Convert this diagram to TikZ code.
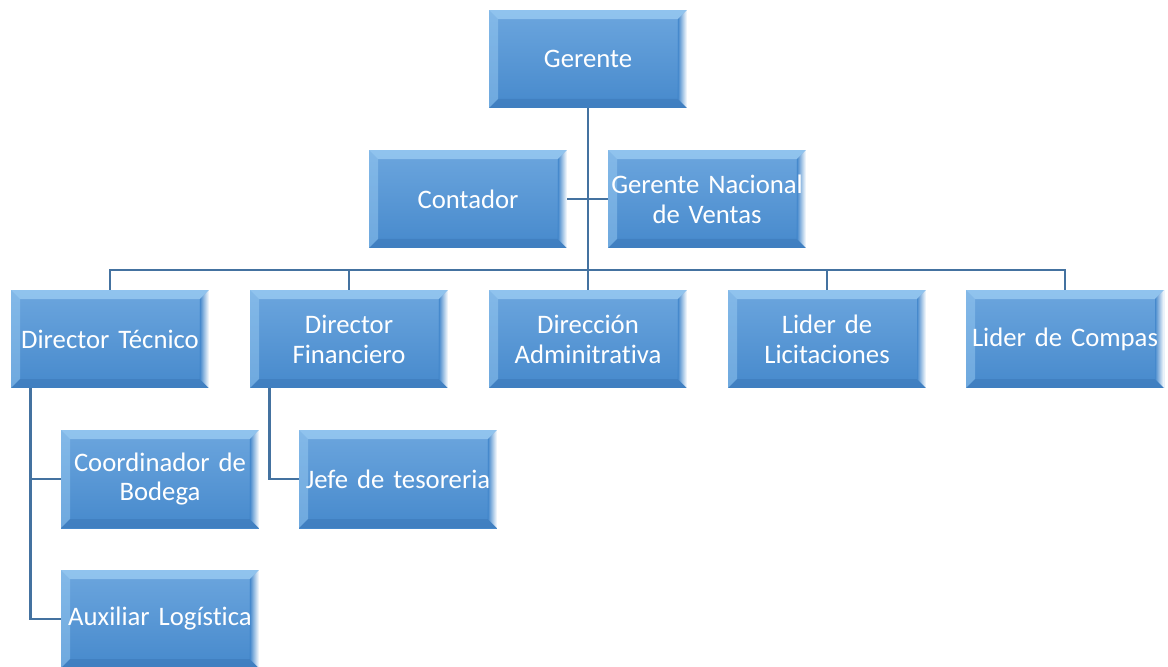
\documentclass[tikz,border=0pt]{standalone}
\usepackage{fontspec}
\setmainfont{Carlito}[Ligatures=NoCommon]
\definecolor{boxtop}{RGB}{108,166,222}
\definecolor{boxbot}{RGB}{70,137,204}
\definecolor{bevlight}{RGB}{160,208,245}
\definecolor{bevdark}{RGB}{58,118,182}
\definecolor{linkblue}{RGB}{68,114,160}
\begin{document}
\begin{tikzpicture}[x=0.02cm, y=-0.02cm,
    unit/.style={shape=rectangle, minimum width=3.96cm, minimum height=1.96cm,
      text width=3.9cm, align=center, inner sep=0pt, text=white,
      top color=boxtop, bottom color=boxbot,
      font=\fontsize{15.2}{17}\selectfont,
      path picture={
        \fill[bevlight, opacity=0.7] (path picture bounding box.north west) -- (path picture bounding box.north east)
          -- ([shift={(-0.18cm,-0.18cm)}]path picture bounding box.north east) -- ([shift={(0.18cm,-0.18cm)}]path picture bounding box.north west) -- cycle;
        \fill[bevlight, opacity=0.45] (path picture bounding box.north west) -- ([shift={(0.18cm,-0.18cm)}]path picture bounding box.north west)
          -- ([shift={(0.18cm,0.18cm)}]path picture bounding box.south west) -- (path picture bounding box.south west) -- cycle;
        \fill[bevdark, opacity=0.5] (path picture bounding box.south west) -- (path picture bounding box.south east)
          -- ([shift={(-0.18cm,0.18cm)}]path picture bounding box.south east) -- ([shift={(0.18cm,0.18cm)}]path picture bounding box.south west) -- cycle;
        \shade[left color=boxbot, right color=white] (path picture bounding box.north east) -- (path picture bounding box.south east)
          -- ([shift={(-0.18cm,0.18cm)}]path picture bounding box.south east) -- ([shift={(-0.18cm,-0.18cm)}]path picture bounding box.north east) -- cycle;
      }},
    link/.style={draw=linkblue, line width=1.5pt}]
  \useasboundingbox (0,0) rectangle (1168,666);

  \coordinate (bus) at (588,270);

  \draw[link] (588,108) -- (bus);
  \draw[link] (567,199) -- (608,199);
  \draw[link] (bus) -| (110,290);
  \draw[link] (bus) -| (349,290);
  \draw[link] (bus) -| (827,290);
  \draw[link] (bus) -| (1065,290);
  \draw[link] (bus) -- (588,290);

  \node[unit] at (588,59) (ger) {Gerente};
  \node[unit] at (468,199) (cont) {Contador};
  \node[unit] at (707,199) (gnv) {Gerente Nacional\\de Ventas};
  \node[unit] at (110,339) (dt) {Director Técnico};
  \node[unit] at (349,339) (df) {Director\\Financiero};
  \node[unit] at (588,339) (da) {Dirección\\Adminitrativa};
  \node[unit] at (827,339) (ll) {Lider de\\Licitaciones};
  \node[unit] at (1065,339) (lc) {Lider de Compas};
  \node[unit] at (160,479) (cb) {Coordinador de\\Bodega};
  \node[unit] at (398,479) (jt) {Jefe de tesoreria};
  \node[unit] at (160,619) (al) {Auxiliar Logística};

  \draw[link] ([xshift=0.4cm]dt.south west) |- (cb.west);
  \draw[link] ([xshift=0.4cm]dt.south west) |- (al.west);
  \draw[link] ([xshift=0.4cm]df.south west) |- (jt.west);
\end{tikzpicture}
\end{document}
